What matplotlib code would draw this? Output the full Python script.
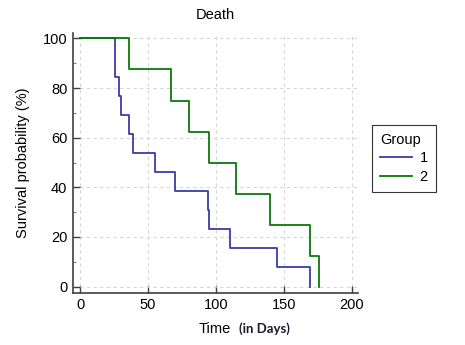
import matplotlib.pyplot as plt
from matplotlib.ticker import MultipleLocator

plt.rcParams['font.family'] = ['Liberation Sans', 'DejaVu Sans']

# Kaplan-Meier steps (time in days, survival in %)
g1_time = [0, 26, 29, 30, 36, 39, 55, 70, 94, 95, 110, 145, 169]
g1_surv = [100, 84.6, 76.9, 69.2, 61.5, 53.8, 46.2, 38.5, 30.8, 23.1, 15.4, 7.7, 0]

g2_time = [0, 36, 67, 80, 95, 115, 140, 169, 176]
g2_surv = [100, 87.5, 75, 62.5, 50, 37.5, 25, 12.5, 0]

x_ticks = [0, 50, 100, 150, 200]
y_ticks = [0, 20, 40, 60, 80, 100]

fig = plt.figure(figsize=(4.65, 3.45), dpi=100)
ax = fig.add_axes([0.157, 0.152, 0.613, 0.753])

ax.step(g1_time, g1_surv, where='post', color='#3b3ba8', lw=1.3, label='1')
ax.step(g2_time, g2_surv, where='post', color='#0a7a0a', lw=1.3, label='2')

ax.set_xlim(-5.2, 204.6)
ax.set_ylim(-2.4, 102.3)
ax.set_xticks(x_ticks)
ax.set_yticks(y_ticks)
ax.yaxis.set_minor_locator(MultipleLocator(10))

ax.grid(True, which='major', color='#d6d6d6', linestyle=(0, (3, 3)), lw=0.8)
ax.set_axisbelow(True)

for s in ['top', 'right']:
    ax.spines[s].set_visible(False)
for s in ['left', 'bottom']:
    ax.spines[s].set_color('#404040')
    ax.spines[s].set_linewidth(1.2)

ax.tick_params(which='major', direction='in', length=5, width=1, color='#404040',
               labelsize=10.5, pad=4)
ax.tick_params(which='minor', direction='in', length=2.5, width=0.8, color='#808080')

ax.set_title('Death', fontsize=10.5, pad=10)
ax.set_ylabel('Survival probability (%)', fontsize=10.5, labelpad=9)
fig.text(0.427, 0.047, 'Time', fontsize=10.5, ha='left', va='center')
fig.text(0.514, 0.047, '(in Days)', fontsize=9.5, fontweight='bold',
         family=['Lato', 'DejaVu Sans'], color='#1a1a2e', ha='left', va='center')

leg = ax.legend(title='Group', loc='upper left', bbox_to_anchor=(1.049, 0.645),
                borderaxespad=0, fancybox=False, edgecolor='black', fontsize=10.5,
                title_fontsize=10.5, handlelength=2.2, handletextpad=0.5,
                labelspacing=0.3, borderpad=0.55)
leg.get_frame().set_linewidth(0.8)
leg._legend_box.align = 'left'

fig.savefig('out.png', dpi=100)
